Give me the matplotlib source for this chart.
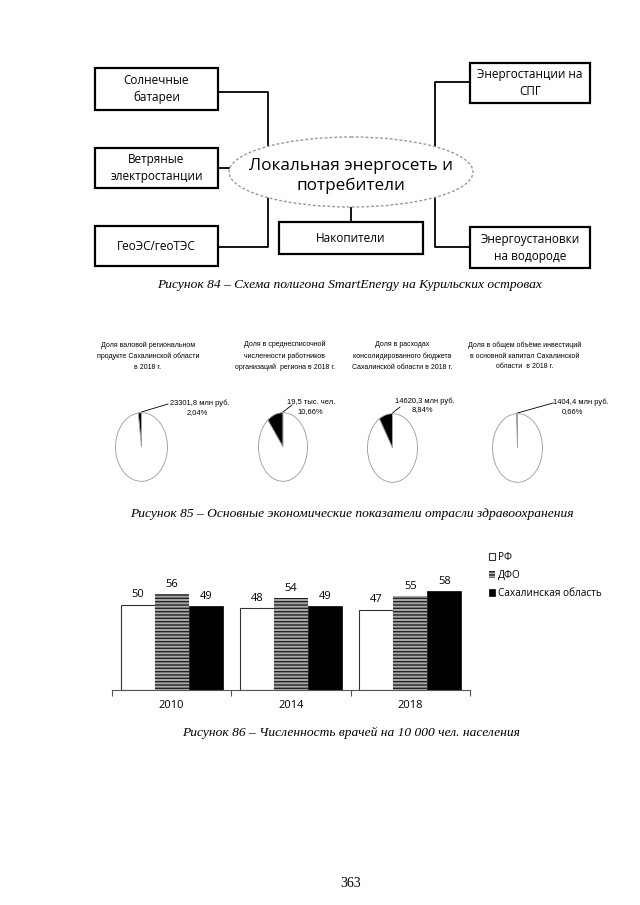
import numpy as np
import matplotlib
matplotlib.use("Agg")
import matplotlib.pyplot as plt
from matplotlib.patches import Rectangle, Ellipse

plt.rcParams['font.family'] = ['Open Sans', 'DejaVu Sans']

# --- data -------------------------------------------------------------
scheme_center = "Локальная энергосеть и\nпотребители"
scheme_left = ["Солнечные\nбатареи", "Ветряные\nэлектростанции", "ГеоЭС/геоТЭС"]
scheme_bottom = "Накопители"
scheme_right = ["Энергостанции на\nСПГ", "Энергоустановки\nна водороде"]

pie_titles = [
    "Доля валовой региональном\nпродукте Сахалинской области\nв 2018 г.",
    "Доля в среднесписочной\nчисленности работников\nорганизаций  региона в 2018 г.",
    "Доля в расходах\nконсолидированного бюджета\nСахалинской области в 2018 г.",
    "Доля в общем объёме инвестиций\nв основной капитал Сахалинской\nобласти  в 2018 г.",
]
pie_values = ["23301,8 млн руб.", "19,5 тыс. чел.", "14620,3 млн руб.", "1404,4 млн руб."]
pie_shares = [2.04, 10.66, 8.84, 0.66]

years = ["2010", "2014", "2018"]
series = ["РФ", "ДФО", "Сахалинская область"]
rf = [50, 48, 47]
dfo = [56, 54, 55]
sakh = [49, 49, 58]

captions = [
    "Рисунок 84 – Схема полигона SmartEnergy на Курильских островах",
    "Рисунок 85 – Основные экономические показатели отрасли здравоохранения",
    "Рисунок 86 – Численность врачей на 10 000 чел. населения",
]
page_no = "363"

# --- figure -----------------------------------------------------------
W, H = 640, 905
fig = plt.figure(figsize=(W / 100, H / 100), dpi=100)
page = fig.add_axes([0, 0, 1, 1])
page.set_xlim(0, W)
page.set_ylim(H, 0)
page.axis('off')


def px_axes(l, t, w, h):
    return fig.add_axes([l / W, 1 - (t + h) / H, w / W, h / H])


def box(x0, y0, x1, y1, text):
    page.add_patch(Rectangle((x0, y0), x1 - x0, y1 - y0, fill=True, fc='white',
                             ec='black', lw=1.6, zorder=3))
    page.text((x0 + x1) / 2, (y0 + y1) / 2, text, ha='center', va='center',
              fontsize=8.5, linespacing=1.4, zorder=4)


# scheme (figure 84)
line_kw = dict(color='black', lw=1.3, zorder=1)
page.plot([218, 268, 268], [92, 92, 172], **line_kw)
page.plot([218, 268, 268], [247, 247, 172], **line_kw)
page.plot([218, 240], [168, 168], **line_kw)
page.plot([351, 351], [222, 190], **line_kw)
page.plot([470, 435, 435, 470], [82, 82, 247, 247], **line_kw)

for (y0, y1), t in zip([(68, 110), (148, 188), (226, 266)], scheme_left):
    box(95, y0, 218, y1, t)
box(279, 222, 423, 254, scheme_bottom)
for (y0, y1), t in zip([(63, 103), (227, 268)], scheme_right):
    box(470, y0, 590, y1, t)

page.add_patch(Ellipse((351, 172), 244, 70, fc='white', ec='#999999', lw=1.0,
                       ls=(0, (2, 1.5)), zorder=2))
page.text(351, 176, scheme_center, ha='center', va='center', fontsize=12.3,
          linespacing=1.3, zorder=4)

# pies (figure 85)
pie_boxes = [(115, 412, 53, 70), (258, 412, 50, 70), (367, 413, 51, 70), (492, 413, 51, 70)]
title_x = [148, 285, 402, 525]
label_pos = [(170, 403, 197, 413), (287, 402, 310, 412), (395, 401, 422, 410), (553, 402, 572, 412)]
leader_end = [(168, 404), (292, 405), (400, 407), (553, 403)]
tfont = ['Liberation Sans Narrow', 'Liberation Sans', 'DejaVu Sans']

for i, share in enumerate(pie_shares):
    l, t, w, h = pie_boxes[i]
    ax = px_axes(l, t, w, h)
    ax.pie([share, 100 - share], colors=['black', 'white'], startangle=90,
           counterclock=True,
           wedgeprops=dict(edgecolor='#9a9a9a', linewidth=0.6))
    ax.set_aspect('auto')
    ax.set_xlim(-1.02, 1.02)
    ax.set_ylim(-1.02, 1.02)
    ax.axis('off')

    page.text(title_x[i], 356, pie_titles[i], ha='center', va='center',
              fontsize=5.0, family=tfont, linespacing=1.75)
    lx, ly, px, py = label_pos[i]
    page.text(lx, ly, pie_values[i], ha='left', va='center', fontsize=5.4, family=tfont)
    page.text(px, py, f"{share:.2f}%".replace('.', ','), ha='center', va='center',
              fontsize=5.4, family=tfont)
    cx = l + w / 2
    page.plot([cx, leader_end[i][0]], [t, leader_end[i][1]], color='black', lw=0.6)

# bar chart (figure 86)
bx = px_axes(112, 584, 358, 106)
x = np.arange(len(years))
bw = 0.285
b1 = bx.bar(x - bw, rf, bw, color='white', edgecolor='#333333', linewidth=0.8, label=series[0])
b2 = bx.bar(x, dfo, bw, color='#a8a8a8', edgecolor='#222222', linewidth=0,
            hatch='-----', label=series[1])
b3 = bx.bar(x + bw, sakh, bw, color='black', edgecolor='black', linewidth=0.5, label=series[2])
for b in (b1, b2, b3):
    bx.bar_label(b, padding=3, fontsize=8)
bx.set_xlim(-0.5, 2.5)
bx.set_ylim(0, 62)
bx.set_yticks([])
bx.set_xticks([-0.5, 0.5, 1.5, 2.5])
bx.set_xticklabels([])
bx.tick_params(axis='x', which='major', length=4, color='#555555')
bx.set_xticks(x, minor=True)
bx.set_xticklabels(years, minor=True, fontsize=8)
bx.tick_params(axis='x', which='minor', length=0, pad=7)
for s in ('top', 'left', 'right'):
    bx.spines[s].set_visible(False)
bx.spines['bottom'].set_color('#555555')
bx.patch.set_alpha(0)

fig.legend(handles=[b1, b2, b3], labels=series, loc='upper left',
           bbox_to_anchor=(484 / W, 1 - 547 / H), frameon=False, fontsize=7.2,
           handlelength=0.6, handleheight=0.6, handletextpad=0.3,
           labelspacing=0.7, borderpad=0)

# captions
cap_kw = dict(ha='center', va='center', fontsize=9.7, family='Liberation Serif', style='italic')
page.text(350, 285, captions[0], **cap_kw)
page.text(352, 514, captions[1], **cap_kw)
page.text(351, 733, captions[2], **cap_kw)
page.text(351, 883, page_no, ha='center', va='center', fontsize=10, family='Liberation Serif')

fig.savefig("out.png", dpi=100)
